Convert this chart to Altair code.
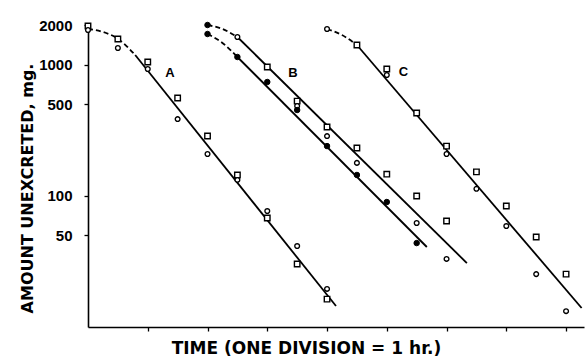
import altair as alt
import pandas as pd

# Time after dose in hours (one axis division = 1 hr); amounts in mg
A_T = [0, 0.5, 1, 1.5, 2, 2.5, 3, 3.5, 4]
A_SQUARE = [1965, 1564, 1045, 556, 285, 144, 67.7, 30.2, 16.3]
A_CIRCLE = [1832, 1336, 924, 384, 208, 132, 76.5, 41.4, 19.5]

B_SQUARE_T = [3, 3.5, 4, 4.5, 5, 5.5, 6]
B_SQUARE = [957, 526, 334, 231, 146, 99.6, 64.2]
B_CIRCLE_T = [2.5, 3.5, 4, 4.5, 5.5, 6]
B_CIRCLE = [1620, 483, 285, 178, 62.0, 33.0]
B_DOT_T = [2, 2, 2.5, 3, 3.5, 4, 4.5, 5, 5.5]
B_DOT = [2000, 1708, 1141, 736, 450, 239, 144, 89.6, 43.6]

C_SQUARE_T = [4.5, 5, 5.5, 6, 6.5, 7, 7.5, 8]
C_SQUARE = [1408, 924, 427, 239, 152, 83.5, 48.5, 25.3]
C_CIRCLE_T = [4, 5, 6, 6.5, 7, 7.5, 8]
C_CIRCLE = [1865, 832, 208, 113, 58.8, 25.3, 13.2]

# Fitted curves: dashed early bend, then straight log-linear decline
CURVE_NAMES = ["A0", "A1", "Bu0", "Bu1", "Bl0", "Bl1", "C0", "C1"]
CURVE_STYLE = ["dashed", "solid", "dashed", "solid", "dashed", "solid", "dashed", "solid"]
CURVE_T = [
    [0, 0.25, 0.5, 0.79], [0.79, 4.15],
    [2, 2.25, 2.5], [2.5, 6.34],
    [2, 2.25, 2.5], [2.5, 5.67],
    [4, 4.25, 4.5], [4.5, 8.26],
]
CURVE_V = [
    [1865, 1770, 1570, 1181], [1181, 14.45],
    [2000, 1865, 1620], [1620, 30.7],
    [1708, 1458, 1141], [1141, 40.7],
    [1865, 1678, 1408], [1408, 13.96],
]

LABELS = ["A", "B", "C"]
LABEL_T = [1.37, 3.43, 5.28]
LABEL_V = [861, 861, 877]

Y_TICKS = [50, 100, 500, 1000, 2000]
X_TICKS = [1, 2, 3, 4, 5, 6, 7, 8]

# Point table
rows = []
for ts, vs, kind in [
    (A_T, A_SQUARE, "square"), (A_T, A_CIRCLE, "circle"),
    (B_SQUARE_T, B_SQUARE, "square"), (B_CIRCLE_T, B_CIRCLE, "circle"),
    (B_DOT_T, B_DOT, "dot"),
    (C_SQUARE_T, C_SQUARE, "square"), (C_CIRCLE_T, C_CIRCLE, "circle"),
]:
    for t, v in zip(ts, vs):
        rows.append({"t": t, "v": v, "kind": kind})
points = pd.DataFrame(rows)

crows = []
for name, style, ts, vs in zip(CURVE_NAMES, CURVE_STYLE, CURVE_T, CURVE_V):
    for i, (t, v) in enumerate(zip(ts, vs)):
        crows.append({"t": t, "v": v, "seg": name, "style": style, "i": i})
curves = pd.DataFrame(crows)

labels = pd.DataFrame({"t": LABEL_T, "v": LABEL_V, "label": LABELS})

x_enc = alt.X(
    "t:Q",
    scale=alt.Scale(domain=[0, 8.3], nice=False, zero=False),
    axis=alt.Axis(
        values=X_TICKS, labels=False, grid=False, tickSize=4, tickColor="black",
        tickWidth=1.3, domainColor="black", domainWidth=1.6,
        title="TIME (ONE DIVISION = 1 hr.)",
        titleFont="DejaVu Sans", titleFontSize=17, titleFontWeight="bold",
        titleColor="black", titleX=218, titleY=26, titleAlign="center",
        titleBaseline="alphabetic",
    ),
)
y_enc = alt.Y(
    "v:Q",
    scale=alt.Scale(type="log", domain=[10, 2000], nice=False),
    axis=alt.Axis(
        values=Y_TICKS, format="d", grid=False, tickSize=4, tickColor="black",
        tickWidth=1.3, domainColor="black", domainWidth=1.6,
        labelFont="Liberation Sans", labelFontSize=15, labelFontWeight="bold",
        labelColor="black", labelPadding=12,
        title="AMOUNT UNEXCRETED, mg.",
        titleFont="DejaVu Sans", titleFontSize=16, titleFontWeight="bold",
        titleColor="black", titleX=-56, titleY=163, titleAngle=270,
        titleAlign="center", titleBaseline="alphabetic",
    ),
)

base_lines = alt.Chart(curves).encode(
    x=x_enc, y=y_enc, detail="seg:N", order="i:Q"
)
solid = base_lines.transform_filter(alt.datum.style == "solid").mark_line(
    color="black", strokeWidth=1.8
)
dashed = base_lines.transform_filter(alt.datum.style == "dashed").mark_line(
    color="black", strokeWidth=1.8, strokeDash=[5, 3], interpolate="monotone"
)

pts = alt.Chart(points).encode(x=alt.X("t:Q"), y=alt.Y("v:Q"))
squares = pts.transform_filter(alt.datum.kind == "square").mark_point(
    shape="square", size=30, filled=True, fill="white", stroke="black",
    strokeWidth=1.4, opacity=1
)
circles = pts.transform_filter(alt.datum.kind == "circle").mark_point(
    shape="circle", size=22, filled=True, fill="white", stroke="black",
    strokeWidth=1.4, opacity=1
)
dots = pts.transform_filter(alt.datum.kind == "dot").mark_point(
    shape="circle", size=30, filled=True, fill="black", stroke="black",
    strokeWidth=1, opacity=1
)

text = alt.Chart(labels).mark_text(
    font="Liberation Sans", fontSize=13, fontWeight="bold", color="black",
    align="center", baseline="middle"
).encode(x=alt.X("t:Q"), y=alt.Y("v:Q"), text="label:N")

chart = (
    alt.layer(solid, dashed, squares, circles, dots, text)
    .properties(
        width=496, height=302,
        autosize=alt.AutoSizeParams(type="none"),
        padding={"left": 88, "top": 25, "right": 4, "bottom": 29},
        background="white",
    )
    .configure_view(stroke=None)
)

chart.save("out.html", embed_options={"renderer": "svg", "actions": False})
